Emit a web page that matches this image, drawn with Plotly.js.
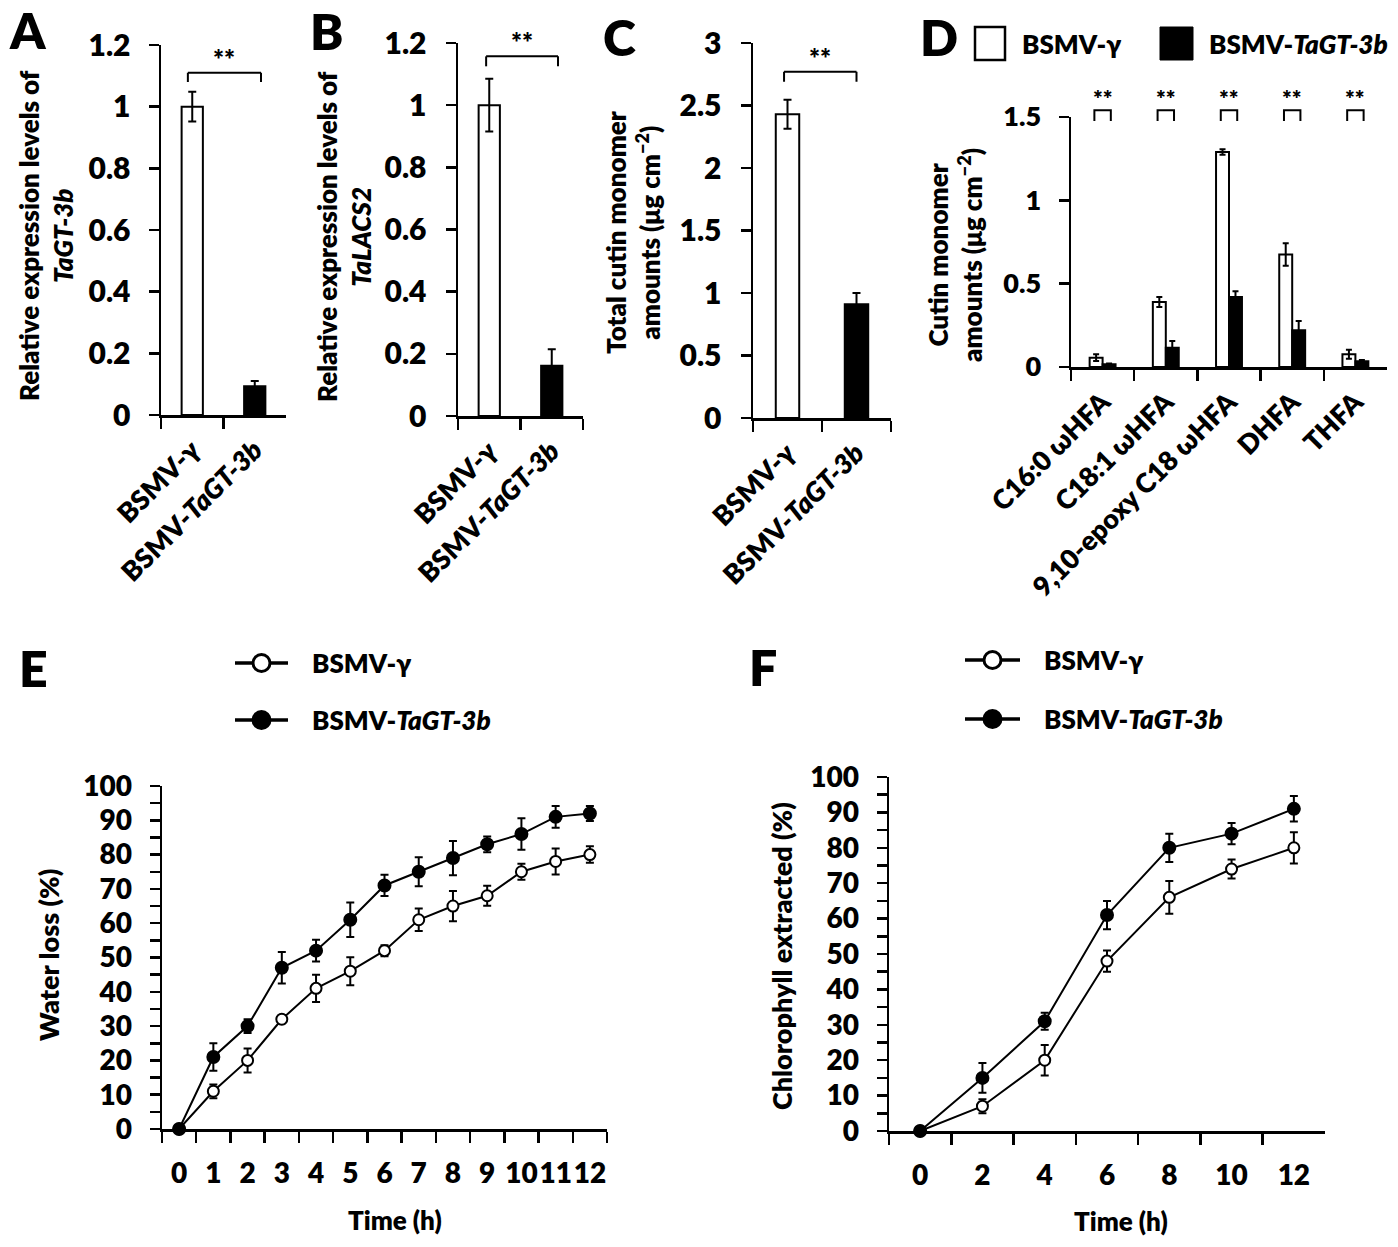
<!DOCTYPE html>
<html>
<head>
<meta charset="utf-8">
<script src="https://cdn.plot.ly/plotly-3.0.1.min.js"></script>
<style>
  body { margin: 0; background: #fff; }
  #chart { width: 1398px; height: 1247px; }
</style>
</head>
<body>
<div id="chart"></div>
<script>
// ---------- DATA
const groups = ["BSMV-γ", "BSMV-<i>TaGT-3b</i>"];

// A - relative expression of TaGT-3b
const exprTaGT = [1.0, 0.093];
const exprTaGTErr = [0.048, 0.017];

// B - relative expression of TaLACS2
const exprLACS = [1.0, 0.162];
const exprLACSErr = [0.085, 0.053];

// C - total cutin monomer amounts
const cutinTotal = [2.43, 0.91];
const cutinTotalErr = [0.115, 0.09];

// D - cutin monomers
const monomers = ["C16:0 ωHFA", "C18:1 ωHFA", "9,10-epoxy C18 ωHFA", "DHFA", "THFA"];
const monoCtrl = [0.056, 0.39, 1.29, 0.675, 0.077];
const monoCtrlErr = [0.02, 0.03, 0.016, 0.068, 0.027];
const monoSil = [0.016, 0.116, 0.42, 0.22, 0.034];
const monoSilErr = [0.005, 0.04, 0.034, 0.056, 0.008];

// E - water loss
const hoursE = ["0", "1", "2", "3", "4", "5", "6", "7", "8", "9", "10", "11", "12"];
const waterCtrl = [0, 11, 20, 32, 41, 46, 52, 61, 65, 68, 75, 78, 80];
const waterCtrlErr = [0, 2, 3.5, 1.2, 4, 4.1, 1.6, 3.3, 4.4, 2.9, 2.3, 3.8, 2.4];
const waterSil = [0, 21, 30, 47, 52, 61, 71, 75, 79, 83, 86, 91, 92];
const waterSilErr = [0, 4, 2, 4.6, 3.2, 5, 3.1, 4.2, 5, 2.3, 4.6, 3.2, 2.2];

// F - chlorophyll extracted
const hoursF = ["0", "2", "4", "6", "8", "10", "12"];
const chlCtrl = [0, 7, 20, 48, 66, 74, 80];
const chlCtrlErr = [0, 2, 4.3, 3, 4.6, 2.7, 4.4];
const chlSil = [0, 15, 31, 61, 80, 84, 91];
const chlSilErr = [0, 4.2, 2.4, 4, 4, 3, 3.6];

// ---------- LAYOUT HELPERS
const W = 1398, H = 1247;
const FONT = 'Lato, "Open Sans", "Liberation Sans", sans-serif';
const fx = p => p / W;
const fy = p => 1 - p / H;
const fnt = (size, extra) => Object.assign({ family: FONT, size: size, color: "black", weight: 800 }, extra || {});

// panel boxes in pixels
const boxA = { x0: 161, x1: 286, top: 45, bot: 415 };
const boxB = { x0: 458, x1: 583, top: 43, bot: 416 };
const boxC = { x0: 753, x1: 891, top: 43, bot: 418 };
const boxD = { x0: 1071, x1: 1387, top: 117, bot: 367 };
const boxE = { x0: 162, x1: 607, top: 786, bot: 1129 };
const boxF = { x0: 889, x1: 1325, top: 777, bot: 1131 };

function catAxis(box, yId, n, size, standoff, angle) {
    return {
        domain: [fx(box.x0), fx(box.x1)], anchor: yId, type: "category",
        range: [-0.5, n - 0.5], tickson: "boundaries",
        ticks: "outside", ticklen: 11, tickwidth: 2.5, tickcolor: "black",
        showline: true, linewidth: 2.5, linecolor: "black",
        showgrid: false, zeroline: false, tickangle: angle,
        ticklabelstandoff: standoff, tickfont: fnt(size), fixedrange: true
    };
}

function valAxis(box, xId, max, dtick, size, standoff, minor) {
    const ax = {
        domain: [fy(box.bot), fy(box.top)], anchor: xId,
        range: [0, max], dtick: dtick, tick0: 0,
        ticks: "outside", ticklen: 10, tickwidth: 2.5, tickcolor: "black",
        showline: true, linewidth: 2.5, linecolor: "black",
        showgrid: false, zeroline: false,
        ticklabelstandoff: standoff, tickfont: fnt(size), fixedrange: true
    };
    if (minor) {
        ax.minor = { dtick: minor, tick0: 0, ticks: "outside", ticklen: 10, tickwidth: 2.5, tickcolor: "black", showgrid: false };
    }
    return ax;
}

function barPair(vals, errs, xa, ya) {
    return {
        type: "bar", x: groups, y: vals, xaxis: xa, yaxis: ya, width: 0.34,
        marker: { color: ["white", "black"], line: { color: "black", width: 2 } },
        error_y: { type: "data", array: errs, visible: true, color: "black", thickness: 2, width: 4 },
        showlegend: false, hoverinfo: "skip"
    };
}

function lineTrace(x, y, err, filled, xa, ya) {
    return {
        type: "scatter", mode: "lines+markers", x: x, y: y, xaxis: xa, yaxis: ya,
        line: { color: "black", width: 2 },
        marker: { symbol: "circle", size: filled ? 12 : 11, color: filled ? "black" : "white", line: { color: "black", width: 2 } },
        error_y: { type: "data", array: err, visible: true, color: "black", thickness: 2, width: 4 },
        cliponaxis: false, showlegend: false, hoverinfo: "skip"
    };
}

const data = [
    barPair(exprTaGT, exprTaGTErr, "x", "y"),
    barPair(exprLACS, exprLACSErr, "x2", "y2"),
    barPair(cutinTotal, cutinTotalErr, "x3", "y3"),
    {
        type: "bar", x: monomers, y: monoCtrl, xaxis: "x4", yaxis: "y4",
        marker: { color: "white", line: { color: "black", width: 2 } },
        error_y: { type: "data", array: monoCtrlErr, visible: true, color: "black", thickness: 2, width: 3 },
        showlegend: false, hoverinfo: "skip"
    },
    {
        type: "bar", x: monomers, y: monoSil, xaxis: "x4", yaxis: "y4",
        marker: { color: "black", line: { color: "black", width: 2 } },
        error_y: { type: "data", array: monoSilErr, visible: true, color: "black", thickness: 2, width: 3 },
        showlegend: false, hoverinfo: "skip"
    },
    lineTrace(hoursE, waterCtrl, waterCtrlErr, false, "x5", "y5"),
    lineTrace(hoursE, waterSil, waterSilErr, true, "x5", "y5"),
    lineTrace(hoursF, chlCtrl, chlCtrlErr, false, "x6", "y6"),
    lineTrace(hoursF, chlSil, chlSilErr, true, "x6", "y6")
];

// ---------- SHAPES & ANNOTATIONS
const shapes = [];
const annotations = [];
const ln = { color: "black", width: 2 };

// significance bracket on data axes
function bracket(xa, ya, left, right, top, leg) {
    shapes.push({ type: "line", xref: xa, yref: ya, x0: left, x1: left, y0: leg, y1: top, line: ln });
    shapes.push({ type: "line", xref: xa, yref: ya, x0: left, x1: right, y0: top, y1: top, line: ln });
    shapes.push({ type: "line", xref: xa, yref: ya, x0: right, x1: right, y0: leg, y1: top, line: ln });
    annotations.push({ xref: xa, yref: ya, x: (left + right) / 2, y: top, yanchor: "bottom", yshift: -4,
        text: "**", showarrow: false, font: fnt(26) });
}
bracket("x", "y", -0.07, 1.1, 1.11, 1.08);
bracket("x2", "y2", -0.05, 1.1, 1.157, 1.125);
bracket("x3", "y3", -0.05, 1.0, 2.77, 2.69);

// panel D brackets sit above the axis top, so map values to paper
const dMax = 1.5;
const dPaper = v => fy(boxD.bot) + v / dMax * (fy(boxD.top) - fy(boxD.bot));
monomers.forEach(function (m, i) {
    const l = i - 0.13, r = i + 0.13;
    shapes.push({ type: "path", xref: "x4", yref: "paper",
        path: "M" + l + "," + dPaper(1.476) + " L" + l + "," + dPaper(1.54) + " L" + r + "," + dPaper(1.54) + " L" + r + "," + dPaper(1.476),
        line: ln });
    annotations.push({ xref: "x4", yref: "paper", x: i, y: dPaper(1.54), yanchor: "bottom", yshift: -4,
        text: "**", showarrow: false, font: fnt(23) });
});

// panel D legend
shapes.push({ type: "rect", xref: "paper", yref: "paper", x0: fx(975), x1: fx(1005), y0: fy(60), y1: fy(27),
    fillcolor: "white", line: { color: "black", width: 2.5 } });
shapes.push({ type: "rect", xref: "paper", yref: "paper", x0: fx(1160), x1: fx(1193), y0: fy(60), y1: fy(27),
    fillcolor: "black", line: { color: "black", width: 1 } });
annotations.push({ xref: "paper", yref: "paper", x: fx(1020), y: fy(44), xanchor: "left", yanchor: "middle",
    text: "BSMV-γ", showarrow: false, font: fnt(26) });
annotations.push({ xref: "paper", yref: "paper", x: fx(1207), y: fy(44), xanchor: "left", yanchor: "middle",
    text: "BSMV-<i>TaGT-3b</i>", showarrow: false, font: fnt(26) });

// line chart legends (E, F)
function lineLegend(lx0, lx1, rows) {
    rows.forEach(function (row) {
        shapes.push({ type: "line", xref: "paper", yref: "paper", x0: fx(lx0), x1: fx(lx1), y0: fy(row.y), y1: fy(row.y),
            line: { color: "black", width: 3.5 } });
        const cx = (lx0 + lx1) / 2, r = 8.5;
        shapes.push({ type: "circle", xref: "paper", yref: "paper", x0: fx(cx - r), x1: fx(cx + r), y0: fy(row.y + r), y1: fy(row.y - r),
            fillcolor: row.filled ? "black" : "white", line: { color: "black", width: 3 } });
        annotations.push({ xref: "paper", yref: "paper", x: fx(lx1 + 22), y: fy(row.y), xanchor: "left", yanchor: "middle",
            text: row.text, showarrow: false, font: fnt(26) });
    });
}
lineLegend(235, 288, [{ y: 663, filled: false, text: "BSMV-γ" }, { y: 720, filled: true, text: "BSMV-<i>TaGT-3b</i>" }]);
lineLegend(965, 1020, [{ y: 660, filled: false, text: "BSMV-γ" }, { y: 719, filled: true, text: "BSMV-<i>TaGT-3b</i>" }]);

// panel letters
[["A", 28, 30], ["B", 326, 31], ["C", 619, 37], ["D", 939, 37], ["E", 33, 668], ["F", 763, 667]].forEach(function (p) {
    annotations.push({ xref: "paper", yref: "paper", x: fx(p[1]), y: fy(p[2]), xanchor: "center", yanchor: "middle",
        text: p[0], showarrow: false, font: fnt(50) });
});

// axis titles
function title(text, x, y, angle, size) {
    annotations.push({ xref: "paper", yref: "paper", x: fx(x), y: fy(y), xanchor: "center", yanchor: "middle",
        text: text, textangle: angle, showarrow: false, font: fnt(size), align: "center" });
}
title("Relative expression levels of<br><i>TaGT-3b</i>", 46, 236, -90, 26);
title("Relative expression levels of<br><i>TaLACS2</i>", 344, 237, -90, 26);
title("Total cutin monomer<br>amounts (μg cm<sup>−2</sup>)", 633, 233, -90, 26);
title("Cutin monomer<br>amounts (μg cm<sup>−2</sup>)", 955, 255, -90, 26);
title("Water loss (%)", 49, 955, -90, 27);
title("Chlorophyll extracted (%)", 781, 956, -90, 27);
title("Time (h)", 395, 1220, 0, 26);
title("Time (h)", 1121, 1221, 0, 26);

const layout = {
    width: W, height: H, autosize: false,
    margin: { l: 0, r: 0, t: 0, b: 0 },
    paper_bgcolor: "white", plot_bgcolor: "rgba(0,0,0,0)",
    font: fnt(24),
    barmode: "group", bargap: 0.59, bargroupgap: 0,
    showlegend: false,
    xaxis: catAxis(boxA, "y", 2, 27, 6, -45),
    yaxis: valAxis(boxA, "x", 1.2, 0.2, 30, 12),
    xaxis2: catAxis(boxB, "y2", 2, 27, 6, -45),
    yaxis2: valAxis(boxB, "x2", 1.2, 0.2, 30, 13),
    xaxis3: catAxis(boxC, "y3", 2, 27, 6, -45),
    yaxis3: valAxis(boxC, "x3", 3, 0.5, 30, 13),
    xaxis4: catAxis(boxD, "y4", 5, 27, 6, -45),
    yaxis4: valAxis(boxD, "x4", dMax, 0.5, 27, 12),
    xaxis5: catAxis(boxE, "y5", hoursE.length, 28, 18, 0),
    yaxis5: valAxis(boxE, "x5", 100, 10, 28, 12, 5),
    xaxis6: catAxis(boxF, "y6", hoursF.length, 28, 18, 0),
    yaxis6: valAxis(boxF, "x6", 100, 10, 28, 12, 5),
    shapes: shapes,
    annotations: annotations
};

Plotly.newPlot("chart", data, layout, { displayModeBar: false, staticPlot: true });
</script>
</body>
</html>
